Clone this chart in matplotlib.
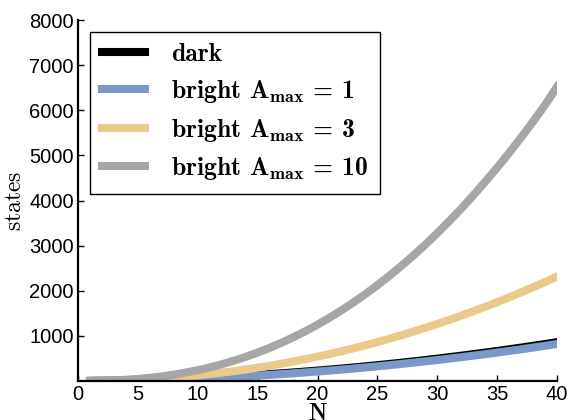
import os
import matplotlib
matplotlib.use("Agg")
import matplotlib.pyplot as plt
from matplotlib.font_manager import FontProperties

plt.rcParams["mathtext.fontset"] = "cm"
plt.rcParams["font.family"] = ["Liberation Sans", "DejaVu Sans"]

# Number of particles
N = list(range(1, 41))

# Number of states per configuration
dark = [3, 6, 10, 15, 21, 28, 36, 45, 55, 66, 78, 91, 105, 120, 136, 153, 171, 190, 210, 231,
        253, 276, 300, 325, 351, 378, 406, 435, 465, 496, 528, 561, 595, 630, 666, 703, 741, 780, 820, 861]
bright_a1 = [1, 3, 6, 10, 15, 21, 28, 36, 45, 55, 66, 78, 91, 105, 120, 136, 153, 171, 190, 210,
             231, 253, 276, 300, 325, 351, 378, 406, 435, 465, 496, 528, 561, 595, 630, 666, 703, 741, 780, 820]
bright_a3 = [1, 4, 10, 18, 29, 43, 59, 79, 101, 126, 154, 185, 218, 255, 295, 338, 384, 433, 485, 540,
             598, 659, 724, 791, 863, 936, 1014, 1094, 1177, 1264, 1354, 1447, 1544, 1643, 1747, 1853, 1963, 2077, 2193, 2313]
bright_a10 = [1, 5, 14, 27, 46, 71, 103, 141, 187, 240, 301, 370, 448, 534, 630, 734, 848, 972, 1105, 1248,
              1402, 1566, 1741, 1926, 2123, 2331, 2550, 2780, 3022, 3276, 3542, 3820, 4111, 4414, 4727, 5055, 5395, 5749, 6116, 6520]

a_max = ["1", "3", "10"]
labels = ["dark"] + [r"bright $\mathbf{A}_{\mathbf{max}}$ = %s" % a for a in a_max]
colors = ["#000000", "#7b98c9", "#ebc98a", "#a6a6a6"]
x_ticks = [0, 5, 10, 15, 20, 25, 30, 35, 40]
y_ticks = [1000, 2000, 3000, 4000, 5000, 6000, 7000, 8000]

# Computer Modern bold, shipped with matplotlib
cm_bold = os.path.join(matplotlib.get_data_path(), "fonts", "ttf", "cmb10.ttf")
legend_font = FontProperties(fname=cm_bold, size=18.5)

fig = plt.figure(figsize=(5.67, 4.2), dpi=100)
ax = fig.add_axes([78 / 567, 1 - 381 / 420, 479 / 567, 361 / 420])

for series, col, lab in zip([dark, bright_a1, bright_a3, bright_a10], colors, labels):
    ax.plot(N, series, color=col, lw=5.8, label=lab, solid_capstyle="projecting")

ax.set_xlim(0, 40)
ax.set_ylim(0, 8000)
ax.set_xticks(x_ticks)
ax.set_yticks(y_ticks)
ax.tick_params(direction="in", length=4, width=1, labelsize=14.5, pad=3)

for side in ["top", "right"]:
    ax.spines[side].set_visible(False)
for side in ["left", "bottom"]:
    ax.spines[side].set_linewidth(1.6)

ax.set_xlabel(r"$\mathbf{N}$", fontsize=17, labelpad=-1)
ax.set_ylabel(r"$\mathrm{states}$", fontsize=17, labelpad=2)

leg = ax.legend(loc="upper left", bbox_to_anchor=(0.025, 0.967), borderaxespad=0,
                prop=legend_font, handlelength=1.7, handletextpad=1.0, labelspacing=0.45,
                borderpad=0.45, fancybox=False, framealpha=1)
leg.get_frame().set_edgecolor("black")
leg.get_frame().set_linewidth(1.0)

fig.savefig("out.png", dpi=100)
